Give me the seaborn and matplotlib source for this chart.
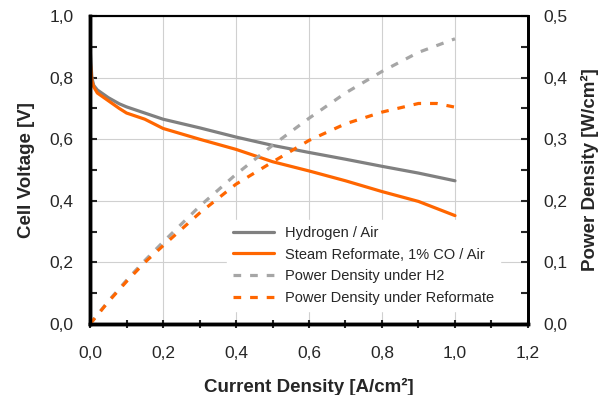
import matplotlib
matplotlib.use("Agg")
import matplotlib.pyplot as plt
import seaborn as sns
from matplotlib.ticker import MultipleLocator, FuncFormatter
from matplotlib.lines import Line2D

# current density [A/cm²]
current = [0.0, 0.005, 0.01, 0.02, 0.05, 0.08, 0.1, 0.15, 0.2, 0.3, 0.4, 0.5, 0.6, 0.7, 0.8, 0.9, 1.0]
# cell voltage [V]
v_h2 = [0.90, 0.80, 0.775, 0.76, 0.735, 0.715, 0.705, 0.685, 0.665, 0.637, 0.607, 0.58, 0.557, 0.535, 0.512, 0.49, 0.465]
v_ref = [0.86, 0.79, 0.77, 0.75, 0.725, 0.70, 0.685, 0.665, 0.635, 0.600, 0.567, 0.527, 0.497, 0.465, 0.430, 0.398, 0.352]

# power density [W/cm²]
current_p = [0.0, 0.05, 0.1, 0.15, 0.2, 0.3, 0.4, 0.5, 0.6, 0.7, 0.8, 0.9, 0.95, 1.0]
p_h2 = [0.0, 0.037, 0.071, 0.103, 0.133, 0.191, 0.243, 0.29, 0.334, 0.375, 0.41, 0.441, 0.452, 0.463]
p_ref = [0.0, 0.036, 0.069, 0.1, 0.127, 0.18, 0.227, 0.263, 0.298, 0.325, 0.344, 0.358, 0.358, 0.352]

labels = ["Hydrogen / Air", "Steam Reformate, 1% CO / Air",
          "Power Density under H2", "Power Density under Reformate"]

sns.set_style("white")
plt.rcParams['font.family'] = ['Liberation Sans', 'DejaVu Sans']

grey = "#808080"
orange = "#FF6600"
light_grey = "#A6A6A6"
dash = [2.4, 2.8]

fig = plt.figure(figsize=(6.01, 3.95), dpi=100)
ax = fig.add_axes([0.1498, 0.1797, 0.7287, 0.7798])
ax2 = ax.twinx()

sns.lineplot(x=current, y=v_h2, ax=ax, color=grey, lw=2.3)
sns.lineplot(x=current, y=v_ref, ax=ax, color=orange, lw=2.3)
sns.lineplot(x=current_p, y=p_h2, ax=ax2, color=light_grey, lw=2.3)
sns.lineplot(x=current_p, y=p_ref, ax=ax2, color=orange, lw=2.3)
ax2.lines[0].set_dashes(dash)
ax2.lines[1].set_dashes(dash)

fmt = FuncFormatter(lambda v, p: f"{v:.1f}".replace(".", ","))

ax.set_xlim(0, 1.2)
ax.set_ylim(0, 1.0)
ax2.set_ylim(0, 0.5)
ax.xaxis.set_major_locator(MultipleLocator(0.2))
ax.xaxis.set_minor_locator(MultipleLocator(0.1))
ax.yaxis.set_major_locator(MultipleLocator(0.2))
ax.yaxis.set_minor_locator(MultipleLocator(0.1))
ax2.yaxis.set_major_locator(MultipleLocator(0.1))
ax2.yaxis.set_minor_locator(MultipleLocator(0.05))
ax.xaxis.set_major_formatter(fmt)
ax.yaxis.set_major_formatter(fmt)
ax2.yaxis.set_major_formatter(fmt)

ax.grid(True, which='major', color="#D0D0D0", lw=0.8)
ax.set_axisbelow(True)

ax.tick_params(axis='x', which='both', direction='inout', length=6, width=1.5,
               labelsize=12.5, bottom=True, pad=13)
ax.tick_params(axis='y', which='both', direction='in', length=5, width=1.5,
               labelsize=12.5, left=True, pad=12)
ax2.tick_params(axis='y', which='both', direction='in', length=5, width=1.5,
                labelsize=12.5, right=True, pad=11)

for a in (ax, ax2):
    for s in a.spines.values():
        s.set_visible(True)
        s.set_color("black")
    a.spines['left'].set_linewidth(2.5)
    a.spines['bottom'].set_linewidth(2.5)
    a.spines['right'].set_linewidth(2)
    a.spines['top'].set_linewidth(1.5)

ax.set_xlabel("Current Density [A/cm²]", fontsize=13.5, fontweight='bold', labelpad=12)
ax.set_ylabel("Cell Voltage [V]", fontsize=13.5, fontweight='bold', labelpad=10)
ax2.set_ylabel("Power Density [W/cm²]", fontsize=13.5, fontweight='bold', labelpad=10)

handles = [
    Line2D([], [], color=grey, lw=2.3),
    Line2D([], [], color=orange, lw=2.3),
    Line2D([], [], color=light_grey, lw=2.3, dashes=dash),
    Line2D([], [], color=orange, lw=2.3, dashes=dash),
]
leg = ax2.legend(handles, labels, loc='lower left', bbox_to_anchor=(0.296, 0.02),
                 frameon=True, fontsize=10.5, handlelength=2.8, labelspacing=0.52,
                 borderpad=0.4, handletextpad=0.8)
leg.get_frame().set_edgecolor("white")
leg.get_frame().set_facecolor("white")
leg.get_frame().set_alpha(1)

fig.savefig("out.png", dpi=100)
